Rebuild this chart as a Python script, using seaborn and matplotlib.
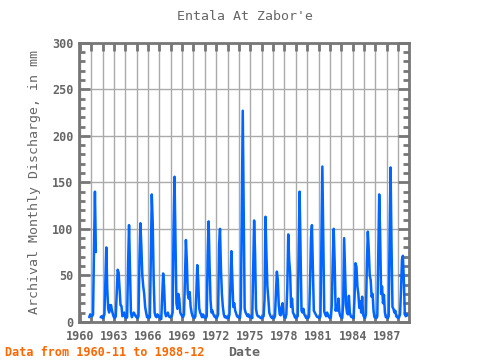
import numpy as np
import pandas as pd
import seaborn as sns
import matplotlib
matplotlib.use("Agg")
import matplotlib.pyplot as plt
from matplotlib.ticker import MultipleLocator, FuncFormatter

TITLE = "Entala At Zabor'e"
YLABEL = "Archival Monthly Discharge, in mm"
XLABEL = "Date"
FOOTER = "Data from 1960-11 to 1988-12"

nan = np.nan
# monthly discharge (Jan..Dec)
y1960 = [nan] * 10 + [5, 8]
y1961 = [7, 6, 8, 76, 140, 75, nan, nan, nan, nan, 5, 6]
y1962 = [4, 5, 8, 42, 80, 36, 14, 10, 18, 18, 12, 8]
y1963 = [5, 4, 6, 30, 56, 53, 35, 18, 17, 6, 8, 10]
y1964 = [5, 4, 5, 63, 104, 57, 10, 5, 8, 10, 8, 6]
y1965 = [5, 4, 6, 67, 106, 81, 50, 38, 30, 16, 10, 5]
y1966 = [6, 4, 5, 72, 137, 106, 45, 10, 6, 5, 8, 6]
y1967 = [5, 4, 3, 28, 52, 38, 10, 6, 8, 10, 6, 5]
y1968 = [5, 6, 10, 102, 156, 86, 20, 14, 30, 25, 10, 8]
y1969 = [6, 5, 8, 45, 88, 65, 30, 25, 32, 16, 10, 6]
y1970 = [5, 4, 6, 30, 61, 45, 15, 10, 8, 5, 8, 5]
y1971 = [5, 4, 6, 73, 108, 60, 23, 10, 12, 8, 6, 5]
y1972 = [4, 5, 8, 83, 100, 57, 30, 16, 8, 5, 6, 4]
y1973 = [5, 4, 8, 40, 76, 47, 16, 20, 12, 9, 6, 5]
y1974 = [5, 4, 15, 124, 227, 126, 14, 10, 8, 6, 8, 5]
y1975 = [5, 6, 4, 57, 109, 74, 14, 8, 6, 6, 5, 4]
y1976 = [4, 5, 6, 24, 113, 72, 38, 25, 10, 7, 5, 4]
y1977 = [5, 4, 6, 29, 54, 45, 18, 8, 7, 16, 20, 8]
y1978 = [5, 4, 8, 36, 94, 66, 53, 16, 25, 10, 8, 5]
y1979 = [4, 5, 6, 78, 140, 73, 12, 10, 14, 8, 6, 4]
y1980 = [5, 4, 6, 41, 90, 104, 59, 12, 10, 8, 6, 5]
y1981 = [5, 4, 6, 89, 167, 91, 11, 8, 6, 10, 7, 5]
y1982 = [4, 5, 18, 66, 100, 63, 12, 16, 12, 25, 10, 6]
y1983 = [5, 4, 20, 90, 54, 18, 10, 8, 28, 10, 6, 5]
y1984 = [5, 4, 27, 63, 59, 38, 30, 15, 22, 10, 27, 8]
y1985 = [5, 4, 8, 63, 97, 77, 50, 45, 27, 30, 12, 5]
y1986 = [5, 4, 6, 72, 137, 93, 30, 38, 20, 29, 10, 5]
y1987 = [5, 4, 6, 93, 166, 82, 16, 14, 10, 12, 6, 5]
y1988 = [4, 5, 8, 33, 67, 71, 45, 9, 6, 8, 7, 7]

years = list(range(1960, 1989))
monthly = [y1960, y1961, y1962, y1963, y1964, y1965, y1966, y1967, y1968,
           y1969, y1970, y1971, y1972, y1973, y1974, y1975, y1976, y1977,
           y1978, y1979, y1980, y1981, y1982, y1983, y1984, y1985, y1986,
           y1987, y1988]

rows = []
for yr, vals in zip(years, monthly):
    for m, v in enumerate(vals):
        rows.append((yr + m / 12.0, v))
df = pd.DataFrame(rows, columns=["t", "q"])
df = df[df["t"] >= 1960 + 10 / 12.0 - 1e-9].reset_index(drop=True)
# segment id so gaps in the record stay gaps
df["seg"] = df["q"].isna().cumsum()
df = df.dropna()

sns.set_theme(style="white")
plt.rcParams["font.family"] = ["DejaVu Sans Mono"]

fig = plt.figure(figsize=(4.8, 3.6), dpi=100)
ax = fig.add_axes([0.165, 0.106, 0.687, 0.775])

sns.lineplot(data=df, x="t", y="q", units="seg", estimator=None,
             color="#0066ff", linewidth=1.8, ax=ax, legend=False)

ax.set_xlim(1959.95, 1988.95)
ax.set_ylim(0, 300)


def year_label(v, pos):
    yr = int(round(v))
    return str(yr) if (yr - 1960) % 3 == 0 else ""


ax.xaxis.set_major_locator(MultipleLocator(1))
ax.xaxis.set_major_formatter(FuncFormatter(year_label))
ax.yaxis.set_major_locator(MultipleLocator(50))
ax.yaxis.set_minor_locator(MultipleLocator(10))

ax.grid(True, which="major", color="#aaaaaa", linewidth=1)
for s in ax.spines.values():
    s.set_color("#777777")
    s.set_linewidth(2)

tick_col = "#666666"
ax.tick_params(axis="x", which="major", direction="in", length=6, width=2,
               color="#777777", top=True, bottom=True, labelsize=8.5,
               labelcolor=tick_col, pad=6)
ax.tick_params(axis="y", which="major", direction="in", length=8, width=2,
               color="#777777", left=True, right=True, labelsize=8.5,
               labelcolor=tick_col, pad=4)
ax.tick_params(axis="y", which="minor", direction="in", length=4, width=2,
               color="#777777", left=True, right=True)
for lab in ax.get_xticklabels() + ax.get_yticklabels():
    lab.set_fontweight("bold")

ax.set_xlabel(XLABEL, fontsize=9.5, color="#666666", fontweight="bold", labelpad=2)
ax.set_ylabel(YLABEL, fontsize=9.5, color="#666666", labelpad=8)
fig.text(0.51, 0.955, TITLE, ha="center", va="center", fontsize=9.5,
         color="#666666")
fig.text(0.01, 0.022, FOOTER, ha="left", va="center", fontsize=8.5,
         color="#ff6600", fontweight="bold")

fig.savefig("out.png", dpi=100)
